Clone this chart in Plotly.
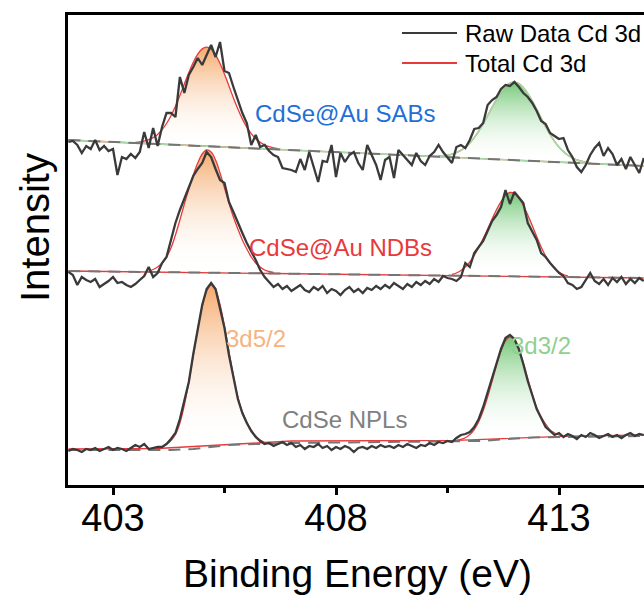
import plotly.graph_objects as go

# ---------------- data (binding energy grid: start 402.0 eV, step 0.1 eV) ----------------
E0, DE = 402.0, 0.1

# Raw spectra (stacked intensity, arbitrary units)
raw_sab = [343, 344, 340, 332, 339, 336, 345, 335, 339, 334,
           336, 310, 328, 326, 331, 327, 333, 353, 337, 357,
           339, 358, 372, 372, 368, 408, 392, 410, 418, 427,
           420, 430, 440, 428, 443, 414, 412, 398, 385, 372,
           362, 340, 350, 338, 340,
           334, 330, 328, 317, 316, 315, 313, 326, 315, 333,
           318, 303, 324, 323, 340, 308, 332, 323, 330, 333,
           322, 315, 340, 330, 320, 305, 325, 328, 307, 335,
           330, 326, 320, 332, 324, 320, 329, 333, 340,
           333, 328, 322, 338, 340, 337, 345, 356, 357, 362,
           380, 385, 388, 396, 400, 399, 403, 398, 392, 388,
           382, 374, 364, 361, 352, 349, 346, 347, 335, 328,
           318, 313,
           320, 330, 337, 342, 329, 337, 331, 320, 326, 316, 328, 320, 312, 327]

raw_ndb = [213, 210, 200, 208, 205, 203, 206, 198, 201, 204, 208, 202, 203, 200, 198, 201, 205, 209,
           218, 208, 212, 222, 228, 245, 262, 275, 287, 297,
           309, 316, 322, 333, 328, 316, 305, 302, 283, 273,
           262, 252, 242, 234, 225, 215, 208,
           203, 198, 201, 196, 199, 194, 197, 200, 195, 193,
           198, 195, 199, 192, 196, 194, 190, 195, 198, 193,
           196, 192, 197, 195, 199, 196, 200, 197, 202, 199,
           196, 201, 198, 203, 200, 204, 201, 206, 203, 209, 207,
           206, 204, 208, 222, 218, 232, 238, 244, 254, 264,
           270, 278, 295, 281, 293, 287, 282, 262, 253, 245,
           232, 228, 222, 217, 212, 209,
           202, 200, 196, 198, 205, 212, 204, 201, 206, 200, 207, 203, 208, 201, 206, 202, 207, 204]

raw_npl = [34, 36, 35, 33, 36, 35, 37, 34, 36, 38, 35, 37, 36, 34, 37, 40, 38, 41, 36, 37, 38,
           38, 41, 46, 52, 66, 84, 103, 131, 157, 180, 196, 202, 196, 178, 157, 130, 106, 86, 72, 62,
           54, 48, 44, 41,
           42, 39, 41, 43, 40, 42, 38, 40, 36, 39, 38, 41, 37, 39, 35, 38, 36, 39, 37, 33,
           37, 38, 36, 39, 37, 40, 38, 39, 37, 40, 38, 41, 39, 37, 40, 39, 42, 40, 43, 42, 44, 43,
           47, 50, 51, 53, 58, 66, 78, 92, 106, 121, 136, 147, 150, 146, 136, 121, 104, 90, 76, 67,
           58, 54, 50, 52,
           48, 51, 49, 46, 50, 48, 52, 50, 47, 49, 51, 48, 50, 47, 50, 52, 49, 51, 50]

# Backgrounds (dashed lines), knots
bg_sab_x = [402.0, 414.9]
bg_sab_y = [345, 319]
bg_ndb_x = [402.0, 414.9]
bg_ndb_y = [214, 207]
bg_npl_x = [402.0, 404.3, 404.8, 405.2, 405.6, 406.2, 407.0, 411.2, 411.6, 412.0, 412.4, 413.0, 414.9]
bg_npl_y = [35, 35, 36, 38, 40, 41, 42, 44, 45, 46.5, 47.5, 48, 49]

# Baseline of the total fit (red) outside the peaks
fit_sab_x = [402.0, 414.9]
fit_sab_y = [345, 319]
fit_ndb_x = [402.0, 414.9]
fit_ndb_y = [214, 207]
fit_npl_x = [402.0, 404.0, 406.4, 407.0, 410.7, 413.1, 414.9]
fit_npl_y = [36, 36.5, 42.5, 44, 44.7, 48.7, 50]

# Fitted component envelopes (background + component), 0.1 eV step
p1_sab_start = 403.5
p1_sab = [342.7, 343.1, 343.9, 345.3, 347.4, 350.6, 355.3, 361.5, 369.3, 378.8,
          389.5, 401, 412.4, 422.7, 430.9, 436.1, 437.8, 435.7, 430.1, 421.5,
          410.8, 399, 387.1, 376, 366.1, 357.9, 351.3, 346.2, 342.6, 340.1,
          338.3, 337.1, 336.3]
p2_sab_start = 410.3
p2_sab = [329, 329.3, 329.9, 330.8, 332.4, 334.6, 337.9, 342, 347.4, 353.8,
          361.2, 369.3, 377.7, 385.6, 392.7, 398.2, 401.8, 402.8, 401.4, 397.4,
          391.5, 384, 375.6, 366.8, 358.3, 350.5, 343.7, 337.9, 333.4, 329.7,
          327.1, 325.1, 323.8, 322.8, 322.1]

p1_ndb_start = 403.8
p1_ndb = [214, 215.5, 218, 222, 228, 237, 250, 265, 281, 296,
          310, 322, 331, 335, 333, 325, 312, 297, 282, 268,
          256, 245, 236, 228, 222, 218, 215, 213.5, 212.5]
p2_ndb_start = 410.6
p2_ndb = [210.5, 212, 214.5, 218, 223, 229.5, 237.5, 246.5, 256, 266,
          275.5, 283.5, 289.5, 292.5, 291.5, 287, 279.5, 270, 259.5, 248.5,
          238, 229, 222, 216.5, 213, 210.5, 209]

p1_npl_start = 404.0
p1_npl = [36.5, 38, 40.5, 44.5, 50.5, 62, 80, 103, 129.6, 155.6,
          178.3, 194, 200, 195, 180.3, 158.6, 133.6, 109.1, 88, 73,
          63, 55, 49, 45, 42.5]
p2_npl_start = 410.7
p2_npl = [44.7, 45.6, 47.3, 50.4, 55.5, 63.3, 74.2, 88.1, 103.8, 120,
          134.2, 144.2, 148, 144.8, 135.6, 122, 106.2, 90.8, 77.3, 68,
          61, 55, 52, 50, 48.7]

sample_labels = ["CdSe@Au SABs", "CdSe@Au NDBs", "CdSe NPLs"]
peak_labels = ["3d5/2", "3d3/2"]
legend_labels = ["Raw Data Cd 3d", "Total Cd 3d"]
x_ticks = [403, 408, 413]
x_minor_ticks = [405.5, 410.5]

# ---------------- styles ----------------
FONT = "Arial, 'Liberation Sans', Helvetica, sans-serif"
RAW_C = "#3a3a3a"
FIT_C = "#e8393c"
BG_C = "#757575"
GREEN_LINE = "#a6dba6"
ORANGE_SCALE = [[0, "rgba(255,255,255,0.0)"], [1, "#f5aa6c"]]
GREEN_SCALE = [[0, "rgba(255,255,255,0.0)"], [1, "#74c878"]]
DASH = "12px,8px"

fig = go.Figure()

spectra = [
    dict(raw=raw_sab, bgx=bg_sab_x, bgy=bg_sab_y, fx=fit_sab_x, fy=fit_sab_y,
         p1=p1_sab, p1s=p1_sab_start, p2=p2_sab, p2s=p2_sab_start, green=True),
    dict(raw=raw_ndb, bgx=bg_ndb_x, bgy=bg_ndb_y, fx=fit_ndb_x, fy=fit_ndb_y,
         p1=p1_ndb, p1s=p1_ndb_start, p2=p2_ndb, p2s=p2_ndb_start, green=False),
    dict(raw=raw_npl, bgx=bg_npl_x, bgy=bg_npl_y, fx=fit_npl_x, fy=fit_npl_y,
         p1=p1_npl, p1s=p1_npl_start, p2=p2_npl, p2s=p2_npl_start, green=False),
]

for s in spectra:
    # gradient-filled components
    for key, start, scale in (("p1", "p1s", ORANGE_SCALE), ("p2", "p2s", GREEN_SCALE)):
        fig.add_trace(go.Scatter(
            y=s[key], x0=s[start], dx=DE, mode="lines", line=dict(width=0),
            fill="toself", fillgradient=dict(type="vertical", colorscale=scale),
            hoverinfo="skip", showlegend=False))
    # total fit (red)
    fig.add_trace(go.Scatter(x=s["fx"], y=s["fy"], mode="lines",
                             line=dict(color=FIT_C, width=1.3), showlegend=False))
    for key, start in (("p1", "p1s"), ("p2", "p2s")):
        fig.add_trace(go.Scatter(y=s[key], x0=s[start], dx=DE, mode="lines",
                                 line=dict(color=FIT_C, width=1.3, shape="spline"),
                                 showlegend=False))
    if s["green"]:
        fig.add_trace(go.Scatter(x=s["bgx"], y=s["bgy"], mode="lines",
                                 line=dict(color=GREEN_LINE, width=1.6), showlegend=False))
        fig.add_trace(go.Scatter(y=s["p2"], x0=s["p2s"], dx=DE, mode="lines",
                                 line=dict(color=GREEN_LINE, width=1.6, shape="spline"),
                                 showlegend=False))
    # background (dashed), above the fit lines
    fig.add_trace(go.Scatter(x=s["bgx"], y=s["bgy"], mode="lines",
                             line=dict(color=BG_C, width=2, dash=DASH), showlegend=False))
    # raw data
    fig.add_trace(go.Scatter(y=s["raw"], x0=E0, dx=DE, mode="lines",
                             line=dict(color=RAW_C, width=2.3), showlegend=False))

# ---------------- layout ----------------
W, H = 644, 595
L, R, T, B = 68, 0, 15, 110
PW, PH = W - L - R, H - T - B

def px(xp):
    return (xp - L) / PW

def py(yp):
    return (H - B - yp) / PH

annotations = []
label_style = [
    (sample_labels[0], 408.2, 372, "#1f6fd6"),
    (sample_labels[1], 408.1, 238, "#e8393c"),
    (sample_labels[2], 408.2, 66, "#808080"),
    (peak_labels[0], 406.21, 147, "#f5b482"),
    (peak_labels[1], 412.6, 140, "#8fd08f"),
]
for txt, xv, yv, col in label_style:
    annotations.append(dict(text=txt, x=xv, y=yv, xref="x", yref="y", showarrow=False,
                            xanchor="center", yanchor="middle",
                            font=dict(size=24, color=col, family=FONT)))

# axis titles
annotations.append(dict(text="Intensity", x=px(35), y=py(228), xref="paper", yref="paper",
                        xanchor="center", yanchor="middle", showarrow=False, textangle=-90,
                        font=dict(size=40, color="black", family=FONT)))
annotations.append(dict(text="Binding Energy (eV)", x=px(357), y=py(573), xref="paper", yref="paper",
                        xanchor="center", yanchor="middle", showarrow=False,
                        font=dict(size=39, color="black", family=FONT)))

# manual legend
shapes = []
for i, (lab, col) in enumerate(zip(legend_labels, [RAW_C, FIT_C])):
    yy = py(33 + 30 * i)
    shapes.append(dict(type="line", xref="paper", yref="paper", x0=px(402), x1=px(457),
                       y0=yy, y1=yy, line=dict(color=col, width=2)))
    annotations.append(dict(text=lab, x=px(463), y=yy, xref="paper", yref="paper",
                            xanchor="left", yanchor="middle", showarrow=False,
                            font=dict(size=24, color="black", family=FONT)))

x_left = 403 - (113 - L) / 44.6
x_right = x_left + PW / 44.6

fig.update_layout(
    width=W, height=H,
    margin=dict(l=L, r=R, t=T, b=B, pad=0),
    paper_bgcolor="white", plot_bgcolor="white",
    showlegend=False,
    annotations=annotations, shapes=shapes,
    font=dict(family=FONT, color="black"),
    xaxis=dict(range=[x_left, x_right], tickvals=x_ticks, ticktext=[str(t) for t in x_ticks],
               ticks="outside", ticklen=7, tickwidth=3, tickcolor="black",
               ticklabelstandoff=-10,
               minor=dict(tickvals=x_minor_ticks, ticks="outside", ticklen=5, tickwidth=2.5,
                          tickcolor="black"),
               showline=True, linewidth=3, linecolor="black", mirror=True,
               showgrid=False, zeroline=False,
               tickfont=dict(size=38, family=FONT, color="black")),
    yaxis=dict(range=[0, 470], showticklabels=False, ticks="",
               showline=True, linewidth=3, linecolor="black",
               showgrid=False, zeroline=False),
)

fig.write_html("out.html")
